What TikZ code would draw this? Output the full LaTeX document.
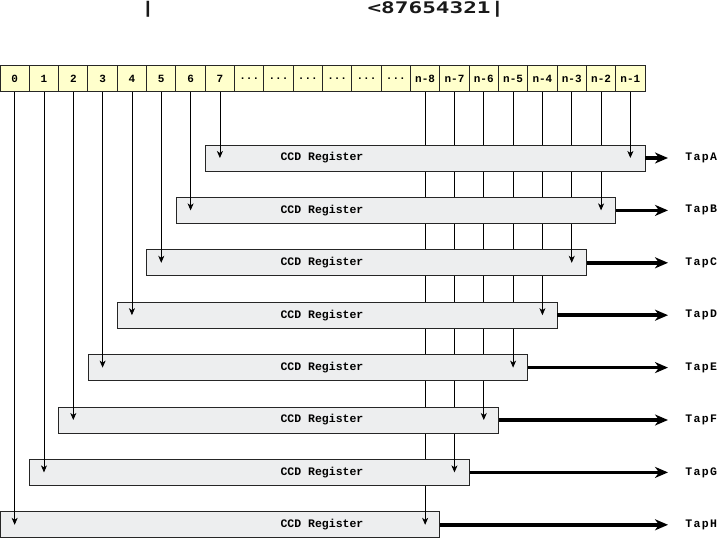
\documentclass[tikz,border=0pt]{standalone}
\usepackage{fontspec}
\setmonofont{Liberation Mono}
\newfontfamily\topfont{DejaVu Sans Mono}
\newfontfamily\tapfont[LetterSpace=12]{Liberation Mono}
\usepackage{xcolor}
\usepackage{tikz}
\usetikzlibrary{arrows.meta,positioning}
\definecolor{cellyellow}{RGB}{255,255,204}
\definecolor{reggray}{RGB}{237,238,239}
\newcommand{\celldots}{...}

\begin{document}
\begin{tikzpicture}[x=1pt, y=-1pt, >={Stealth[length=7pt,width=6pt,inset=2pt]}, line width=0.8pt]
      \tikzstyle{cell}=[draw=black!85, fill=cellyellow, minimum width=29.32pt, minimum height=26pt, inner sep=0pt, line width=1pt, font=\ttfamily\bfseries\fontsize{11}{12}\selectfont]
      \tikzstyle{reg}=[draw=black!85, fill=reggray, minimum width=439.8pt, minimum height=26pt, inner sep=0pt]
      \tikzstyle{reglabel}=[font=\ttfamily\bfseries\fontsize{11.5}{13}\selectfont]
      \tikzstyle{taplabel}=[anchor=west, inner sep=0pt, font=\tapfont\bfseries\fontsize{11.5}{13}\selectfont]
      \tikzstyle{tap}=[-{Stealth[length=13pt,width=11pt,inset=4pt]}, line width=3.5pt, shorten >=17pt]
      \tikzstyle{toptext}=[text=black!90, inner sep=0pt, xscale=1.42, font=\topfont\bfseries\fontsize{16}{18}\selectfont]

      \useasboundingbox (0,0) rectangle (720,540);

      % top text
      \node[toptext] (bar) at (148,9.5) {|};
      \node[toptext, anchor=west] (bits) at (367,9.5) {<87654321|};

      % pixel cells
      \foreach \lab [count=\i from 0] in {0,1,2,3,4,5,6,7,\celldots,\celldots,\celldots,\celldots,\celldots,\celldots,n-8,n-7,n-6,n-5,n-4,n-3,n-2,n-1}
        \node[cell] (c\i) at ({14.66+29.32*\i},79) {\lab};

      % registers, drawn bottom up so lines pass behind
      \foreach \k/\t in {7/H,6/G,5/F,4/E,3/D,2/C,1/B,0/A} {
        \pgfmathtruncatemacro\lc{7-\k}
        \pgfmathtruncatemacro\rc{21-\k}
        \node[reg] (r\t) at ({29.32*(7-\k)+219.9},{158+52.4*\k}) {};
        \node[reglabel] (l\t) at (322,{158+52.4*\k}) {CCD Register};
        \node[taplabel] (t\t) at (685,{158+52.4*\k}) {Tap\t};
        \draw[->] (c\lc.south) -- (c\lc.south |- r\t.center);
        \draw[->] (c\rc.south) -- (c\rc.south |- r\t.center);
        \draw[tap] (r\t.east) -- (t\t.west);
      }

\end{tikzpicture}
\end{document}
